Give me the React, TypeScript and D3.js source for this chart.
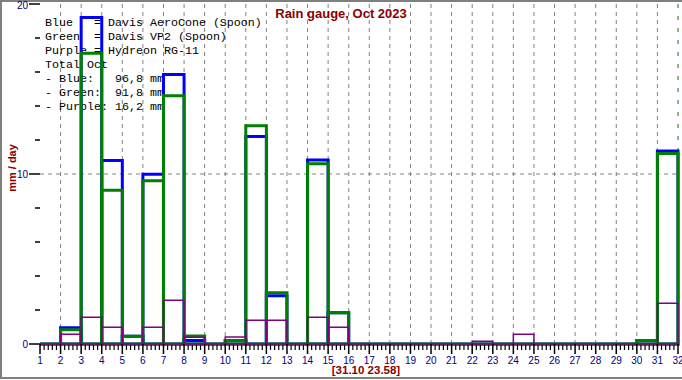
import React from "react";
import * as d3 from "d3";

const days = [1, 2, 3, 4, 5, 6, 7, 8, 9, 10, 11, 12, 13, 14, 15, 16, 17, 18, 19, 20, 21, 22, 23, 24, 25, 26, 27, 28, 29, 30, 31];
const blueValues = [0, 0.96, 19.2, 10.8, 0.45, 9.98, 15.85, 0.2, 0, 0.2, 12.2, 2.84, 0, 10.82, 1.84, 0, 0, 0, 0, 0, 0, 0, 0, 0, 0, 0, 0, 0, 0, 0.2, 11.35];
const greenValues = [0, 0.84, 17.1, 9.04, 0.45, 9.6, 14.6, 0.47, 0, 0.2, 12.84, 3.02, 0, 10.6, 1.84, 0, 0, 0, 0, 0, 0, 0, 0, 0, 0, 0, 0, 0, 0, 0.2, 11.2];
const purpleValues = [0, 0.57, 1.57, 0.98, 0, 0.98, 2.57, 0.4, 0, 0.41, 1.39, 1.39, 0, 1.57, 0.98, 0, 0, 0, 0, 0, 0, 0.16, 0, 0.57, 0, 0, 0, 0, 0, 0, 2.39];
const xTicks = d3.range(1, 33);
const yMajorTicks = [0, 10, 20];
const yMinorTicks = [2, 4, 6, 8, 12, 14, 16, 18];
const legendLines = [
  "Blue   = Davis AeroCone (Spoon)",
  "Green  = Davis VP2 (Spoon)",
  "Purple = Hydreon RG-11",
  "Total Oct",
  "- Blue:   96,8 mm",
  "- Green:  91,8 mm",
  "- Purple: 16,2 mm",
];
const title = "Rain gauge, Oct 2023";
const xLabel = "[31.10 23.58]";
const yLabel = "mm / day";

const W = 682;
const H = 380;
const x = d3.scaleLinear().domain([1, 32]).range([40, 678]);
const y = d3.scaleLinear().domain([0, 20]).range([344, 4]);

function barPath(d: number, v: number) {
  const x0 = x(d);
  const x1 = x(d + 1);
  const y0 = y(0);
  const y1 = y(v);
  return `M${x0},${y0}V${y1}H${x1}V${y0}Z`;
}

const series = [
  { values: blueValues, color: "#0000ff", width: 3 },
  { values: greenValues, color: "#008000", width: 3 },
  { values: purpleValues, color: "#800080", width: 1.5 },
];

export default function App() {
  const minorX: number[] = [];
  for (let d = 1; d < 32; d++) {
    for (let k = 1; k < 5; k++) minorX.push(d + k / 5);
  }
  return (
    <svg width={W} height={H} style={{ display: "block", position: "absolute", left: 0, top: 0 }} fontFamily="'Liberation Sans', Arial, sans-serif">
      <rect x={0} y={0} width={W} height={H} fill="#ffffff" />
      {/* window border */}
      <line x1={0} x2={W} y1={1} y2={1} stroke="#808080" strokeWidth={2} />
      <line x1={1} x2={1} y1={0} y2={378} stroke="#808080" strokeWidth={2} />
      <line x1={0} x2={W} y1={378} y2={378} stroke="#808080" strokeWidth={2} />

      {/* grid */}
      {xTicks.slice(1, 31).map((d) => (
        <line key={"g" + d} x1={x(d)} x2={x(d)} y1={y(20)} y2={y(0)} stroke="#808080" strokeWidth={1} strokeDasharray="4,4" />
      ))}
      <line x1={x(1)} x2={x(32)} y1={y(10)} y2={y(10)} stroke="#808080" strokeWidth={1} strokeDasharray="4,4" />
      <line x1={x(32)} x2={x(32)} y1={y(20)} y2={y(11.2)} stroke="#008000" strokeWidth={1} strokeDasharray="4,8" />

      {/* title */}
      <text x={341} y={18} textAnchor="middle" fontSize={13} fontWeight="bold" fill="#8b0000">{title}</text>

      {/* legend */}
      {legendLines.map((t, i) => (
        <text key={"l" + i} x={45} y={26 + i * 14} fontFamily="'Liberation Mono', 'Courier New', monospace" fontSize={11.67} fill="#000000" style={{ whiteSpace: "pre" }} xmlSpace="preserve">{t}</text>
      ))}

      {/* bars */}
      {series.map((s, si) => (
        <g key={"s" + si}>
          {days.map((d, i) => (
            <path key={d} d={barPath(d, s.values[i])} fill="none" stroke={s.color} strokeWidth={s.width} />
          ))}
        </g>
      ))}

      {/* y axis ticks */}
      {yMajorTicks.map((v) => (
        <g key={"ym" + v}>
          <line x1={29} x2={40} y1={y(v)} y2={y(v)} stroke="#000000" strokeWidth={1.5} />
          <text x={28} y={y(v) + (v === 20 ? 5 : 4)} textAnchor="end" fontSize={10} fill="#000080">{v}</text>
        </g>
      ))}
      {yMinorTicks.map((v) => (
        <line key={"yn" + v} x1={35} x2={40} y1={y(v)} y2={y(v)} stroke="#000000" strokeWidth={1.5} />
      ))}
      <text transform={`translate(16,${y(10) - 6}) rotate(-90)`} textAnchor="middle" fontSize={11} fontWeight="bold" fill="#8b0000">{yLabel}</text>

      {/* x axis ticks */}
      {xTicks.map((d) => (
        <g key={"xm" + d}>
          <line x1={x(d)} x2={x(d)} y1={344} y2={354} stroke="#000000" strokeWidth={1.5} />
          <text x={x(d)} y={364} textAnchor="middle" fontSize={10} fill="#000080">{d}</text>
        </g>
      ))}
      {minorX.map((d, i) => (
        <line key={"xn" + i} x1={x(d)} x2={x(d)} y1={345} y2={350} stroke="#000000" strokeWidth={1.2} />
      ))}
      <text x={366} y={374} textAnchor="middle" fontSize={11.5} fontWeight="bold" fill="#8b0000">{xLabel}</text>
    </svg>
  );
}
